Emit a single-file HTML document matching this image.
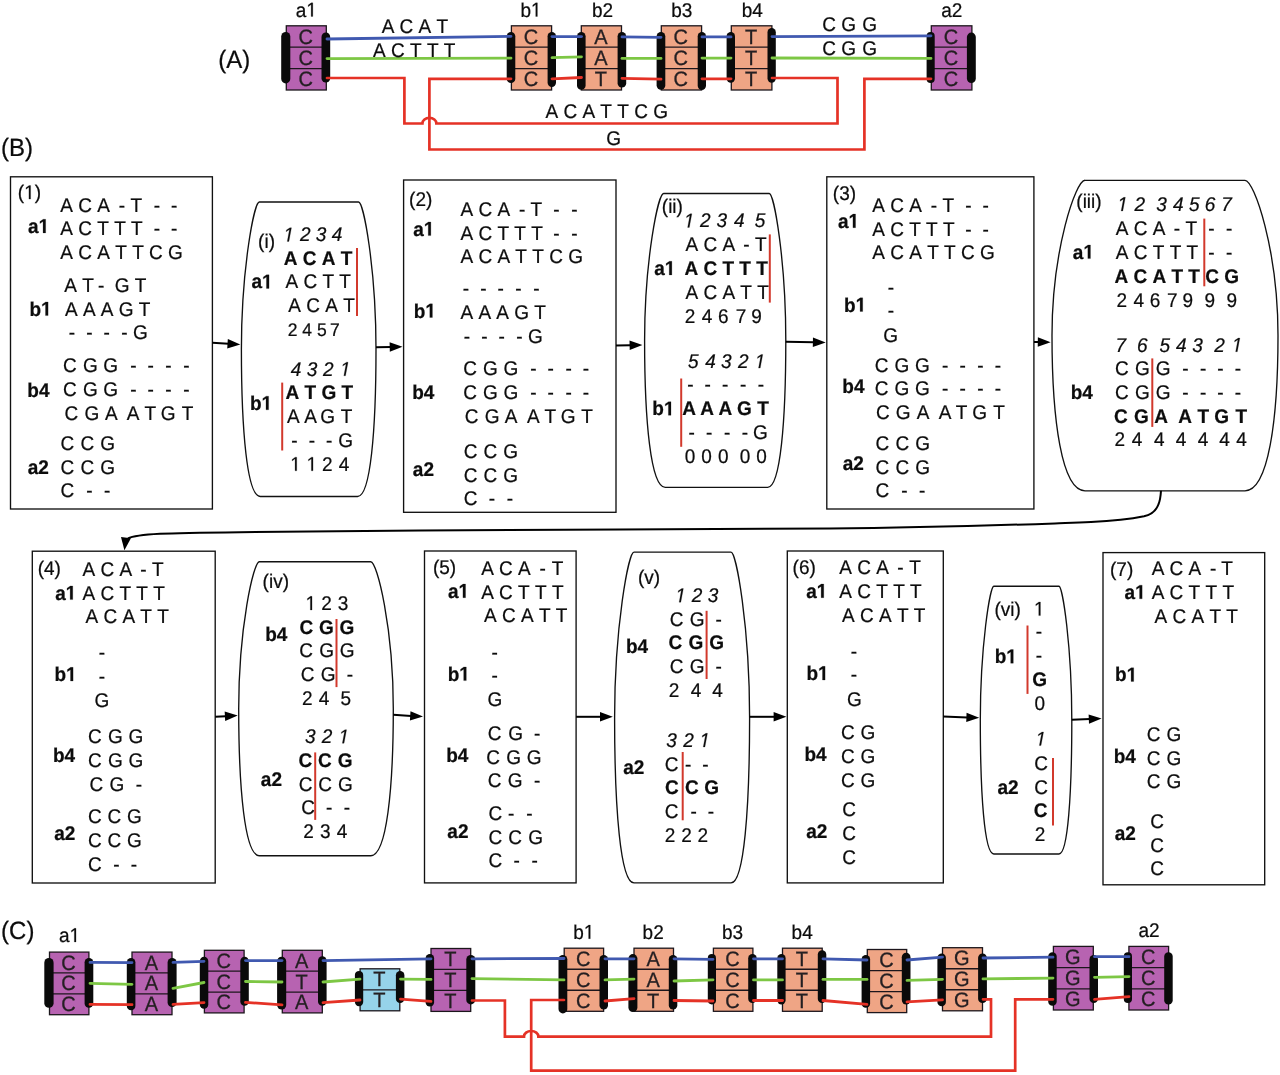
<!DOCTYPE html>
<html><head><meta charset="utf-8"><title>Figure</title>
<style>
html,body{margin:0;padding:0;background:#fff}
svg{display:block;will-change:transform}
text{font-family:"Liberation Sans",sans-serif;font-size:19px;fill:#0c0c0c;white-space:pre;font-kerning:none;font-feature-settings:"kern" 0,"liga" 0;text-rendering:geometricPrecision;stroke:#0c0c0c;stroke-width:0.22px}
.g1{fill:#0c0c0c;stroke:#0c0c0c;stroke-width:0.22px}
.b{font-weight:bold}
.i{font-style:italic}
.u{text-anchor:middle;fill:#241f22;stroke:#241f22;stroke-width:0.3px}
</style></head><body>
<svg width="1280" height="1075" viewBox="0 0 1280 1075" xml:space="preserve">
<rect width="1280" height="1075" fill="#fff"/>
<rect x="286.3" y="25.8" width="40" height="64.2" fill="#b763b1" stroke="#1c161c" stroke-width="1.3"/>
<line x1="286.3" y1="47.2" x2="326.3" y2="47.2" stroke="#1c161c" stroke-width="1.3"/>
<line x1="286.3" y1="68.6" x2="326.3" y2="68.6" stroke="#1c161c" stroke-width="1.3"/>
<text class="u" x="305.7" y="43.54" style="font-size:20px" transform="matrix(1 0 0 1.043 0 -1.8722)">C</text>
<text class="u" x="305.7" y="64.94" style="font-size:20px" transform="matrix(1 0 0 1.043 0 -2.7924)">C</text>
<text class="u" x="305.7" y="86.34" style="font-size:20px" transform="matrix(1 0 0 1.043 0 -3.7126)">C</text>
<rect x="281.2" y="32" width="9.1" height="51.4" rx="4.55" ry="4.55" fill="#0a0a0a"/>
<rect x="321.5" y="32.6" width="8.7" height="50" rx="4.35" ry="4.35" fill="#0a0a0a"/>
<rect x="511.4" y="25.8" width="40.2" height="64.2" fill="#efa585" stroke="#1c161c" stroke-width="1.3"/>
<line x1="511.4" y1="47.2" x2="551.6" y2="47.2" stroke="#1c161c" stroke-width="1.3"/>
<line x1="511.4" y1="68.6" x2="551.6" y2="68.6" stroke="#1c161c" stroke-width="1.3"/>
<text class="u" x="530.9" y="43.54" style="font-size:20px" transform="matrix(1 0 0 1.043 0 -1.8722)">C</text>
<text class="u" x="530.9" y="64.94" style="font-size:20px" transform="matrix(1 0 0 1.043 0 -2.7924)">C</text>
<text class="u" x="530.9" y="86.34" style="font-size:20px" transform="matrix(1 0 0 1.043 0 -3.7126)">C</text>
<rect x="506.7" y="32" width="8.6" height="51" rx="4.3" ry="4.3" fill="#0a0a0a"/>
<rect x="547.6" y="32" width="8.4" height="55" rx="4.2" ry="4.2" fill="#0a0a0a"/>
<rect x="581.3" y="25.8" width="40.2" height="64.2" fill="#efa585" stroke="#1c161c" stroke-width="1.3"/>
<line x1="581.3" y1="47.2" x2="621.5" y2="47.2" stroke="#1c161c" stroke-width="1.3"/>
<line x1="581.3" y1="68.6" x2="621.5" y2="68.6" stroke="#1c161c" stroke-width="1.3"/>
<text class="u" x="600.8" y="43.54" style="font-size:20px" transform="matrix(1 0 0 1.043 0 -1.8722)">A</text>
<text class="u" x="600.8" y="64.94" style="font-size:20px" transform="matrix(1 0 0 1.043 0 -2.7924)">A</text>
<text class="u" x="600.8" y="86.34" style="font-size:20px" transform="matrix(1 0 0 1.043 0 -3.7126)">T</text>
<rect x="577" y="32" width="8.6" height="57.7" rx="4.3" ry="4.3" fill="#0a0a0a"/>
<rect x="617.6" y="32" width="8.6" height="55.5" rx="4.3" ry="4.3" fill="#0a0a0a"/>
<rect x="661.3" y="25.8" width="40.3" height="64.2" fill="#efa585" stroke="#1c161c" stroke-width="1.3"/>
<line x1="661.3" y1="47.2" x2="701.6" y2="47.2" stroke="#1c161c" stroke-width="1.3"/>
<line x1="661.3" y1="68.6" x2="701.6" y2="68.6" stroke="#1c161c" stroke-width="1.3"/>
<text class="u" x="680.85" y="43.54" style="font-size:20px" transform="matrix(1 0 0 1.043 0 -1.8722)">C</text>
<text class="u" x="680.85" y="64.94" style="font-size:20px" transform="matrix(1 0 0 1.043 0 -2.7924)">C</text>
<text class="u" x="680.85" y="86.34" style="font-size:20px" transform="matrix(1 0 0 1.043 0 -3.7126)">C</text>
<rect x="656.6" y="32" width="8.7" height="57.7" rx="4.35" ry="4.35" fill="#0a0a0a"/>
<rect x="697.7" y="32" width="8.3" height="58" rx="4.15" ry="4.15" fill="#0a0a0a"/>
<rect x="731.3" y="25.8" width="40.6" height="64.2" fill="#efa585" stroke="#1c161c" stroke-width="1.3"/>
<line x1="731.3" y1="47.2" x2="771.9" y2="47.2" stroke="#1c161c" stroke-width="1.3"/>
<line x1="731.3" y1="68.6" x2="771.9" y2="68.6" stroke="#1c161c" stroke-width="1.3"/>
<text class="u" x="751" y="43.54" style="font-size:20px" transform="matrix(1 0 0 1.043 0 -1.8722)">T</text>
<text class="u" x="751" y="64.94" style="font-size:20px" transform="matrix(1 0 0 1.043 0 -2.7924)">T</text>
<text class="u" x="751" y="86.34" style="font-size:20px" transform="matrix(1 0 0 1.043 0 -3.7126)">T</text>
<rect x="726.6" y="32" width="8.4" height="50.7" rx="4.2" ry="4.2" fill="#0a0a0a"/>
<rect x="767.5" y="28" width="8.3" height="54.7" rx="4.15" ry="4.15" fill="#0a0a0a"/>
<rect x="931.3" y="25.8" width="40.6" height="64.2" fill="#b763b1" stroke="#1c161c" stroke-width="1.3"/>
<line x1="931.3" y1="47.2" x2="971.9" y2="47.2" stroke="#1c161c" stroke-width="1.3"/>
<line x1="931.3" y1="68.6" x2="971.9" y2="68.6" stroke="#1c161c" stroke-width="1.3"/>
<text class="u" x="951" y="43.54" style="font-size:20px" transform="matrix(1 0 0 1.043 0 -1.8722)">C</text>
<text class="u" x="951" y="64.94" style="font-size:20px" transform="matrix(1 0 0 1.043 0 -2.7924)">C</text>
<text class="u" x="951" y="86.34" style="font-size:20px" transform="matrix(1 0 0 1.043 0 -3.7126)">C</text>
<rect x="926.6" y="32" width="8.1" height="51" rx="4.05" ry="4.05" fill="#0a0a0a"/>
<rect x="966.9" y="32.6" width="8.9" height="50.4" rx="4.45" ry="4.45" fill="#0a0a0a"/>
<line x1="327" y1="39" x2="511" y2="36.3" stroke="#4059b0" stroke-width="2.8" stroke-linecap="round"/>
<line x1="552" y1="36.6" x2="581.5" y2="36.6" stroke="#4059b0" stroke-width="2.8" stroke-linecap="round"/>
<line x1="622" y1="36.9" x2="661" y2="37.3" stroke="#4059b0" stroke-width="2.8" stroke-linecap="round"/>
<line x1="702" y1="36.9" x2="731" y2="36.9" stroke="#4059b0" stroke-width="2.8" stroke-linecap="round"/>
<line x1="772" y1="36.6" x2="931" y2="35.8" stroke="#4059b0" stroke-width="2.8" stroke-linecap="round"/>
<line x1="327" y1="58.6" x2="511" y2="58.2" stroke="#7dc744" stroke-width="2.8" stroke-linecap="round"/>
<line x1="552" y1="57.7" x2="581.5" y2="56.9" stroke="#7dc744" stroke-width="2.8" stroke-linecap="round"/>
<line x1="622" y1="58.4" x2="661" y2="58.4" stroke="#7dc744" stroke-width="2.8" stroke-linecap="round"/>
<line x1="702" y1="58.1" x2="731" y2="58.1" stroke="#7dc744" stroke-width="2.8" stroke-linecap="round"/>
<line x1="772" y1="58" x2="931" y2="58.4" stroke="#7dc744" stroke-width="2.8" stroke-linecap="round"/>
<line x1="552" y1="78.8" x2="581.5" y2="77.5" stroke="#e53226" stroke-width="2.8" stroke-linecap="round"/>
<line x1="622" y1="78.4" x2="661" y2="79.2" stroke="#e53226" stroke-width="2.8" stroke-linecap="round"/>
<line x1="702" y1="78.8" x2="731" y2="78.8" stroke="#e53226" stroke-width="2.8" stroke-linecap="round"/>
<path d="M327 78 L404.4 78 L404.4 123.5 L422.4 123.5 A7 5.6 0 0 1 436.4 123.5 L837.5 123.5 L837.5 78 L772 78" fill="none" stroke="#e53226" stroke-width="2.7" stroke-linejoin="miter" stroke-linecap="round"/>
<path d="M511 78.8 L429.4 78.8 L429.4 149.5 L864.4 149.5 L864.4 78.8 L931 78.8" fill="none" stroke="#e53226" stroke-width="2.7" stroke-linejoin="miter" stroke-linecap="round"/>
<text class="r" y="68.4" style="font-size:24px;" transform="matrix(1 0 0 1.043 0 -2.9412)"><tspan x="218.21">(A)</tspan></text>
<text class="r" y="16.5" transform="matrix(1 0 0 1.043 0 -0.7095)"><tspan x="295.79">a</tspan></text>
<polygon class="g1" points="311.14,16.5 311.14,4.53 308.19,6.73 308.19,5.08 311.28,2.87 312.82,2.87 312.82,16.5"/>
<text class="r" y="16.5" transform="matrix(1 0 0 1.043 0 -0.7095)"><tspan x="520.38">b</tspan></text>
<polygon class="g1" points="535.72,16.5 535.72,4.53 532.77,6.73 532.77,5.08 535.86,2.87 537.4,2.87 537.4,16.5"/>
<text class="r" y="16.5" transform="matrix(1 0 0 1.043 0 -0.7095)"><tspan x="591.98">b2</tspan></text>
<text class="r" y="16.5" transform="matrix(1 0 0 1.043 0 -0.7095)"><tspan x="671.18">b3</tspan></text>
<text class="r" y="16.5" transform="matrix(1 0 0 1.043 0 -0.7095)"><tspan x="741.78">b4</tspan></text>
<text class="r" y="16.5" transform="matrix(1 0 0 1.043 0 -0.7095)"><tspan x="941.19">a2</tspan></text>
<text class="r" y="32.7" transform="matrix(1 0 0 1.043 0 -1.4061)"><tspan x="381.66">A C A T</tspan></text>
<text class="r" y="56.9" transform="matrix(1 0 0 1.043 0 -2.4467)"><tspan x="373.06">A C T T T</tspan></text>
<text class="r" y="31.4" transform="matrix(1 0 0 1.043 0 -1.3502)"><tspan x="822.14">C G</tspan><tspan x="862.24">G</tspan></text>
<text class="r" y="55.3" transform="matrix(1 0 0 1.043 0 -2.3779)"><tspan x="822.14">C G</tspan><tspan x="862.24">G</tspan></text>
<text class="r" y="118.3" transform="matrix(1 0 0 1.043 0 -5.0869)"><tspan x="545.46">A C A T T C G</tspan></text>
<text class="r" y="145.2" transform="matrix(1 0 0 1.043 0 -6.2436)"><tspan x="606.24">G</tspan></text>
<text class="r" y="155.5" style="font-size:24px;" transform="matrix(1 0 0 1.043 0 -6.6865)"><tspan x="1.11">(B)</tspan></text>
<rect x="10.5" y="176.8" width="201.9" height="332.2" fill="none" stroke="#111" stroke-width="1.35"/>
<text class="r" y="199.1" transform="matrix(1 0 0 1.043 0 -8.5613)"><tspan x="17.82">(</tspan><tspan x="34.72">)</tspan></text>
<polygon class="g1" points="28.93,199.1 28.93,187.13 25.98,189.33 25.98,187.68 29.07,185.47 30.61,185.47 30.61,199.1"/>
<text class="r" y="212" transform="matrix(1 0 0 1.043 0 -9.116)"><tspan x="60.36">A C A</tspan><tspan x="118.86">-</tspan><tspan x="130.57">T</tspan><tspan x="153.66">-</tspan><tspan x="171.06">-</tspan></text>
<text class="r" y="235.4" transform="matrix(1 0 0 1.043 0 -10.1222)"><tspan x="60.36">A C T T T</tspan><tspan x="153.66">-</tspan><tspan x="171.06">-</tspan></text>
<text class="r" y="259.1" transform="matrix(1 0 0 1.043 0 -11.1413)"><tspan x="60.36">A C A T T C G</tspan></text>
<text class="b" y="232.9" transform="matrix(1 0 0 1.043 0 -10.0147)"><tspan x="28.04">a</tspan></text>
<polygon class="g1" points="43.04,232.9 43.04,221.58 39.91,223.62 39.91,221.48 43.18,219.27 45.65,219.27 45.65,232.9"/>
<text class="r" y="291.8" transform="matrix(1 0 0 1.043 0 -12.5474)"><tspan x="64.36">A T</tspan><tspan x="97.96">-</tspan><tspan x="114.64">G T</tspan></text>
<text class="r" y="315.8" transform="matrix(1 0 0 1.043 0 -13.5794)"><tspan x="64.96">A A A G T</tspan></text>
<text class="b" y="315.6" transform="matrix(1 0 0 1.043 0 -13.5708)"><tspan x="29.45">b</tspan></text>
<polygon class="g1" points="45.49,315.6 45.49,304.28 42.35,306.32 42.35,304.18 45.63,301.97 48.1,301.97 48.1,315.6"/>
<text class="r" y="339.5" transform="matrix(1 0 0 1.043 0 -14.5985)"><tspan x="68.66">-</tspan><tspan x="86.16">-</tspan><tspan x="103.46">-</tspan><tspan x="121.16">-</tspan><tspan x="133.04">G</tspan></text>
<text class="r" y="372.1" transform="matrix(1 0 0 1.043 0 -16.0003)"><tspan x="63.04">C</tspan><tspan x="82.94">G</tspan><tspan x="103.34">G</tspan><tspan x="130.16">-</tspan><tspan x="147.46">-</tspan><tspan x="165.26">-</tspan><tspan x="183.26">-</tspan></text>
<text class="r" y="395.6" transform="matrix(1 0 0 1.043 0 -17.0108)"><tspan x="63.04">C</tspan><tspan x="82.94">G</tspan><tspan x="103.34">G</tspan><tspan x="130.16">-</tspan><tspan x="147.46">-</tspan><tspan x="165.26">-</tspan><tspan x="183.26">-</tspan></text>
<text class="b" y="397.1" transform="matrix(1 0 0 1.043 0 -17.0753)"><tspan x="27.35">b4</tspan></text>
<text class="r" y="419.6" transform="matrix(1 0 0 1.043 0 -18.0428)"><tspan x="64.54">C</tspan><tspan x="84.54">G</tspan><tspan x="104.96">A</tspan><tspan x="126.86">A</tspan><tspan x="144.47">T</tspan><tspan x="160.64">G</tspan><tspan x="181.67">T</tspan></text>
<text class="r" y="449.9" transform="matrix(1 0 0 1.043 0 -19.3457)"><tspan x="60.44">C</tspan><tspan x="80.44">C</tspan><tspan x="100.34">G</tspan></text>
<text class="r" y="473.8" transform="matrix(1 0 0 1.043 0 -20.3734)"><tspan x="60.44">C</tspan><tspan x="80.44">C</tspan><tspan x="100.34">G</tspan></text>
<text class="b" y="474.4" transform="matrix(1 0 0 1.043 0 -20.3992)"><tspan x="27.64">a2</tspan></text>
<text class="r" y="497.4" transform="matrix(1 0 0 1.043 0 -21.3882)"><tspan x="60.44">C</tspan><tspan x="86.16">-</tspan><tspan x="103.96">-</tspan></text>
<path d="M259.3 202 L358.6 202 C363.47 202 376 268.26 376 349.25 C376 430.24 370.48 496.5 357.6 496.5 L260.3 496.5 C247.07 496.5 241.4 430.24 241.4 349.25 C241.4 268.26 254.29 202 259.3 202 Z" fill="none" stroke="#111" stroke-width="1.35"/>
<text class="r" y="248.1" transform="matrix(1 0 0 1.043 0 -10.6683)"><tspan x="258.12">(i)</tspan></text>
<text class="i" y="241.4" transform="matrix(1 0 0 1.043 0 -10.3802)"><tspan x="300.01">2 3 4</tspan></text>
<polygon class="g1" points="287.24,241.4 289.45,229.57 286.1,231.72 286.42,229.98 289.92,227.77 291.46,227.77 288.92,241.4"/>
<text class="b" y="264.9" transform="matrix(1 0 0 1.043 0 -11.3907)"><tspan x="283.83">A C A T</tspan></text>
<text class="r" y="288.4" transform="matrix(1 0 0 1.043 0 -12.4012)"><tspan x="285.46">A C T T</tspan></text>
<text class="b" y="288.4" transform="matrix(1 0 0 1.043 0 -12.4012)"><tspan x="251.44">a</tspan></text>
<polygon class="g1" points="266.44,288.4 266.44,277.08 263.31,279.12 263.31,276.98 266.58,274.77 269.05,274.77 269.05,288.4"/>
<text class="r" y="312.1" transform="matrix(1 0 0 1.043 0 -13.4203)"><tspan x="288.36">A C A T</tspan></text>
<text class="r" y="336.4" style="font-size:17.5px;" transform="matrix(1 0 0 1.043 0 -14.4652)"><tspan x="287.72">2</tspan><tspan x="302.2">4</tspan><tspan x="317">5</tspan><tspan x="330.1">7</tspan></text>
<line x1="357" y1="248" x2="357" y2="316" stroke="#d2392c" stroke-width="2"/>
<text class="i" y="375.8" transform="matrix(1 0 0 1.043 0 -16.1594)"><tspan x="290.78">4</tspan><tspan x="306.75">3</tspan><tspan x="323.01">2</tspan></text>
<polygon class="g1" points="343.84,375.8 346.05,363.97 342.7,366.12 343.02,364.38 346.52,362.17 348.06,362.17 345.52,375.8"/>
<text class="b" y="399.3" transform="matrix(1 0 0 1.043 0 -17.1699)"><tspan x="285.53">A T G T</tspan></text>
<text class="b" y="409.8" transform="matrix(1 0 0 1.043 0 -17.6214)"><tspan x="249.95">b</tspan></text>
<polygon class="g1" points="265.99,409.8 265.99,398.48 262.85,400.52 262.85,398.38 266.13,396.17 268.6,396.17 268.6,409.8"/>
<text class="r" y="423.1" transform="matrix(1 0 0 1.043 0 -18.1933)"><tspan x="286.96">A</tspan><tspan x="304.26">A</tspan><tspan x="320.34">G</tspan><tspan x="340.67">T</tspan></text>
<text class="r" y="447" transform="matrix(1 0 0 1.043 0 -19.221)"><tspan x="291.16">-</tspan><tspan x="308.66">-</tspan><tspan x="326.06">-</tspan><tspan x="338.14">G</tspan></text>
<text class="r" y="470.8" transform="matrix(1 0 0 1.043 0 -20.2444)"><tspan x="321.94">2</tspan><tspan x="338.76">4</tspan></text>
<polygon class="g1" points="295.05,470.8 295.05,458.83 292.1,461.03 292.1,459.38 295.19,457.17 296.73,457.17 296.73,470.8"/>
<polygon class="g1" points="311.35,470.8 311.35,458.83 308.4,461.03 308.4,459.38 311.49,457.17 313.03,457.17 313.03,470.8"/>
<line x1="282.2" y1="382.6" x2="282.2" y2="450.5" stroke="#d2392c" stroke-width="2"/>
<rect x="403.6" y="180" width="212.4" height="332.3" fill="none" stroke="#111" stroke-width="1.35"/>
<text class="r" y="205.5" transform="matrix(1 0 0 1.043 0 -8.8365)"><tspan x="409.12">(2)</tspan></text>
<text class="r" y="216" transform="matrix(1 0 0 1.043 0 -9.288)"><tspan x="460.46">A C A</tspan><tspan x="518.96">-</tspan><tspan x="530.57">T</tspan><tspan x="553.36">-</tspan><tspan x="571.16">-</tspan></text>
<text class="r" y="239.8" transform="matrix(1 0 0 1.043 0 -10.3114)"><tspan x="460.46">A C T T T</tspan><tspan x="553.36">-</tspan><tspan x="571.16">-</tspan></text>
<text class="b" y="235.6" transform="matrix(1 0 0 1.043 0 -10.1308)"><tspan x="413.24">a</tspan></text>
<polygon class="g1" points="428.24,235.6 428.24,224.28 425.11,226.32 425.11,224.18 428.38,221.97 430.85,221.97 430.85,235.6"/>
<text class="r" y="263.1" transform="matrix(1 0 0 1.043 0 -11.3133)"><tspan x="460.46">A C A T T C G</tspan></text>
<text class="r" y="295.1" transform="matrix(1 0 0 1.043 0 -12.6893)"><tspan x="462.66">-</tspan><tspan x="480.16">-</tspan><tspan x="497.46">-</tspan><tspan x="515.26">-</tspan><tspan x="533.26">-</tspan></text>
<text class="r" y="319.3" transform="matrix(1 0 0 1.043 0 -13.7299)"><tspan x="460.46">A A A G T</tspan></text>
<text class="b" y="317.5" transform="matrix(1 0 0 1.043 0 -13.6525)"><tspan x="413.75">b</tspan></text>
<polygon class="g1" points="429.79,317.5 429.79,306.18 426.65,308.22 426.65,306.08 429.93,303.87 432.4,303.87 432.4,317.5"/>
<text class="r" y="343.1" transform="matrix(1 0 0 1.043 0 -14.7533)"><tspan x="463.66">-</tspan><tspan x="481.16">-</tspan><tspan x="498.46">-</tspan><tspan x="516.26">-</tspan><tspan x="528.04">G</tspan></text>
<text class="r" y="375.3" transform="matrix(1 0 0 1.043 0 -16.1379)"><tspan x="463.14">C</tspan><tspan x="483.04">G</tspan><tspan x="503.54">G</tspan><tspan x="530.16">-</tspan><tspan x="547.56">-</tspan><tspan x="565.56">-</tspan><tspan x="582.76">-</tspan></text>
<text class="r" y="398.9" transform="matrix(1 0 0 1.043 0 -17.1527)"><tspan x="463.14">C</tspan><tspan x="483.04">G</tspan><tspan x="503.54">G</tspan><tspan x="530.16">-</tspan><tspan x="547.56">-</tspan><tspan x="565.56">-</tspan><tspan x="582.76">-</tspan></text>
<text class="b" y="398.9" transform="matrix(1 0 0 1.043 0 -17.1527)"><tspan x="412.15">b4</tspan></text>
<text class="r" y="422.8" transform="matrix(1 0 0 1.043 0 -18.1804)"><tspan x="464.64">C</tspan><tspan x="484.64">G</tspan><tspan x="504.86">A</tspan><tspan x="526.96">A</tspan><tspan x="544.57">T</tspan><tspan x="560.84">G</tspan><tspan x="581.17">T</tspan></text>
<text class="r" y="458.2" transform="matrix(1 0 0 1.043 0 -19.7026)"><tspan x="463.64">C</tspan><tspan x="483.44">C</tspan><tspan x="503.14">G</tspan></text>
<text class="r" y="481.8" transform="matrix(1 0 0 1.043 0 -20.7174)"><tspan x="463.64">C</tspan><tspan x="483.44">C</tspan><tspan x="503.14">G</tspan></text>
<text class="b" y="475.6" transform="matrix(1 0 0 1.043 0 -20.4508)"><tspan x="412.84">a2</tspan></text>
<text class="r" y="505.3" transform="matrix(1 0 0 1.043 0 -21.7279)"><tspan x="463.64">C</tspan><tspan x="488.66">-</tspan><tspan x="506.66">-</tspan></text>
<path d="M663.6 193.5 L769.3 193.5 C773.92 193.5 785.8 259.61 785.8 340.4 C785.8 421.19 780.37 487.3 767.7 487.3 L665.2 487.3 C650.78 487.3 644.6 421.19 644.6 340.4 C644.6 259.61 658.28 193.5 663.6 193.5 Z" fill="none" stroke="#111" stroke-width="1.35"/>
<text class="r" y="212.8" transform="matrix(1 0 0 1.043 0 -9.1504)"><tspan x="661.82">(ii)</tspan></text>
<text class="i" y="227.4" transform="matrix(1 0 0 1.043 0 -9.7782)"><tspan x="700.01">2</tspan><tspan x="716.55">3</tspan><tspan x="733.88">4</tspan><tspan x="754.77">5</tspan></text>
<polygon class="g1" points="687.64,227.4 689.85,215.57 686.5,217.72 686.82,215.98 690.32,213.77 691.86,213.77 689.32,227.4"/>
<text class="r" y="251.4" transform="matrix(1 0 0 1.043 0 -10.8102)"><tspan x="685.46">A C A</tspan><tspan x="743.36">-</tspan><tspan x="755.07">T</tspan></text>
<text class="b" y="274.9" transform="matrix(1 0 0 1.043 0 -11.8207)"><tspan x="684.43">A C T T T</tspan></text>
<text class="b" y="274.9" transform="matrix(1 0 0 1.043 0 -11.8207)"><tspan x="654.24">a</tspan></text>
<polygon class="g1" points="669.24,274.9 669.24,263.58 666.11,265.62 666.11,263.48 669.38,261.27 671.85,261.27 671.85,274.9"/>
<text class="r" y="298.9" transform="matrix(1 0 0 1.043 0 -12.8527)"><tspan x="685.46">A C A T T</tspan></text>
<text class="r" y="322.6" transform="matrix(1 0 0 1.043 0 -13.8718)"><tspan x="684.84">2</tspan><tspan x="701.66">4</tspan><tspan x="718.04">6</tspan><tspan x="735.63">7</tspan><tspan x="751.31">9</tspan></text>
<line x1="769.8" y1="234.4" x2="769.8" y2="302.6" stroke="#d2392c" stroke-width="2"/>
<text class="i" y="368.1" transform="matrix(1 0 0 1.043 0 -15.8283)"><tspan x="687.97">5</tspan><tspan x="705.18">4</tspan><tspan x="720.95">3</tspan><tspan x="738.01">2</tspan></text>
<polygon class="g1" points="758.54,368.1 760.75,356.27 757.4,358.42 757.72,356.68 761.22,354.47 762.76,354.47 760.22,368.1"/>
<text class="r" y="390.6" transform="matrix(1 0 0 1.043 0 -16.7958)"><tspan x="687.16">-</tspan><tspan x="704.56">-</tspan><tspan x="721.96">-</tspan><tspan x="739.96">-</tspan><tspan x="757.76">-</tspan></text>
<text class="b" y="415.4" transform="matrix(1 0 0 1.043 0 -17.8622)"><tspan x="682.13">A</tspan><tspan x="700.33">A</tspan><tspan x="718.53">A</tspan><tspan x="737.12">G</tspan><tspan x="757.19">T</tspan></text>
<text class="b" y="415.3" transform="matrix(1 0 0 1.043 0 -17.8579)"><tspan x="652.35">b</tspan></text>
<polygon class="g1" points="668.39,415.3 668.39,403.98 665.25,406.02 665.25,403.88 668.53,401.67 671,401.67 671,415.3"/>
<text class="r" y="438.8" transform="matrix(1 0 0 1.043 0 -18.8684)"><tspan x="688.56">-</tspan><tspan x="705.96">-</tspan><tspan x="723.96">-</tspan><tspan x="741.76">-</tspan><tspan x="752.94">G</tspan></text>
<text class="r" y="462.9" transform="matrix(1 0 0 1.043 0 -19.9047)"><tspan x="684.66">0</tspan><tspan x="701.36">0</tspan><tspan x="718.06">0</tspan><tspan x="739.76">0</tspan><tspan x="756.26">0</tspan></text>
<line x1="681.2" y1="378.5" x2="681.2" y2="446.8" stroke="#d2392c" stroke-width="2"/>
<rect x="826.8" y="176.8" width="207.1" height="332.2" fill="none" stroke="#111" stroke-width="1.35"/>
<text class="r" y="200.4" transform="matrix(1 0 0 1.043 0 -8.6172)"><tspan x="832.82">(3)</tspan></text>
<text class="r" y="212.2" transform="matrix(1 0 0 1.043 0 -9.1246)"><tspan x="872.26">A C A</tspan><tspan x="930.76">-</tspan><tspan x="942.47">T</tspan><tspan x="965.16">-</tspan><tspan x="982.56">-</tspan></text>
<text class="r" y="235.6" transform="matrix(1 0 0 1.043 0 -10.1308)"><tspan x="872.26">A C T T T</tspan><tspan x="965.16">-</tspan><tspan x="982.56">-</tspan></text>
<text class="b" y="227.7" transform="matrix(1 0 0 1.043 0 -9.7911)"><tspan x="837.94">a</tspan></text>
<polygon class="g1" points="852.94,227.7 852.94,216.38 849.81,218.42 849.81,216.28 853.08,214.07 855.55,214.07 855.55,227.7"/>
<text class="r" y="259.3" transform="matrix(1 0 0 1.043 0 -11.1499)"><tspan x="872.26">A C A T T C G</tspan></text>
<text class="r" y="293.6" transform="matrix(1 0 0 1.043 0 -12.6248)"><tspan x="887.86">-</tspan></text>
<text class="r" y="317.1" transform="matrix(1 0 0 1.043 0 -13.6353)"><tspan x="887.86">-</tspan></text>
<text class="b" y="311.5" transform="matrix(1 0 0 1.043 0 -13.3945)"><tspan x="844.05">b</tspan></text>
<polygon class="g1" points="860.09,311.5 860.09,300.18 856.95,302.22 856.95,300.08 860.23,297.87 862.7,297.87 862.7,311.5"/>
<text class="r" y="341.6" transform="matrix(1 0 0 1.043 0 -14.6888)"><tspan x="883.24">G</tspan></text>
<text class="r" y="371.5" transform="matrix(1 0 0 1.043 0 -15.9745)"><tspan x="874.84">C</tspan><tspan x="894.44">G</tspan><tspan x="914.94">G</tspan><tspan x="942.06">-</tspan><tspan x="959.46">-</tspan><tspan x="977.26">-</tspan><tspan x="994.66">-</tspan></text>
<text class="r" y="395.4" transform="matrix(1 0 0 1.043 0 -17.0022)"><tspan x="874.84">C</tspan><tspan x="894.44">G</tspan><tspan x="914.94">G</tspan><tspan x="942.06">-</tspan><tspan x="959.46">-</tspan><tspan x="977.26">-</tspan><tspan x="994.66">-</tspan></text>
<text class="b" y="393.2" transform="matrix(1 0 0 1.043 0 -16.9076)"><tspan x="842.35">b4</tspan></text>
<text class="r" y="419.4" transform="matrix(1 0 0 1.043 0 -18.0342)"><tspan x="876.04">C</tspan><tspan x="895.84">G</tspan><tspan x="916.66">A</tspan><tspan x="938.76">A</tspan><tspan x="955.77">T</tspan><tspan x="972.24">G</tspan><tspan x="993.17">T</tspan></text>
<text class="r" y="450.1" transform="matrix(1 0 0 1.043 0 -19.3543)"><tspan x="875.44">C</tspan><tspan x="895.44">C</tspan><tspan x="915.34">G</tspan></text>
<text class="r" y="473.6" transform="matrix(1 0 0 1.043 0 -20.3648)"><tspan x="875.44">C</tspan><tspan x="895.44">C</tspan><tspan x="915.34">G</tspan></text>
<text class="b" y="469.9" transform="matrix(1 0 0 1.043 0 -20.2057)"><tspan x="842.64">a2</tspan></text>
<text class="r" y="497.1" transform="matrix(1 0 0 1.043 0 -21.3753)"><tspan x="875.44">C</tspan><tspan x="901.16">-</tspan><tspan x="918.96">-</tspan></text>
<path d="M1085 180.3 L1245 180.3 C1254.24 180.3 1278 250.16 1278 335.55 C1278 420.94 1268.1 490.8 1245 490.8 L1085 490.8 C1061.9 490.8 1052 420.94 1052 335.55 C1052 250.16 1075.76 180.3 1085 180.3 Z" fill="none" stroke="#111" stroke-width="1.35"/>
<text class="r" y="207.9" transform="matrix(1 0 0 1.043 0 -8.9397)"><tspan x="1076.32">(iii)</tspan></text>
<text class="i" y="211" transform="matrix(1 0 0 1.043 0 -9.073)"><tspan x="1134.41">2</tspan><tspan x="1156.35">3</tspan><tspan x="1173.08">4</tspan><tspan x="1189.07">5</tspan><tspan x="1204.83">6</tspan><tspan x="1221.33">7</tspan></text>
<polygon class="g1" points="1121.14,211 1123.35,199.17 1120,201.32 1120.32,199.58 1123.82,197.37 1125.36,197.37 1122.82,211"/>
<text class="r" y="235.1" transform="matrix(1 0 0 1.043 0 -10.1093)"><tspan x="1115.86">A C A</tspan><tspan x="1173.76">-</tspan><tspan x="1185.47">T</tspan><tspan x="1208.16">-</tspan><tspan x="1225.96">-</tspan></text>
<text class="r" y="258.6" transform="matrix(1 0 0 1.043 0 -11.1198)"><tspan x="1115.86">A C T T T</tspan><tspan x="1208.16">-</tspan><tspan x="1225.96">-</tspan></text>
<text class="b" y="258.6" transform="matrix(1 0 0 1.043 0 -11.1198)"><tspan x="1072.84">a</tspan></text>
<polygon class="g1" points="1087.84,258.6 1087.84,247.28 1084.71,249.32 1084.71,247.18 1087.98,244.97 1090.45,244.97 1090.45,258.6"/>
<text class="b" y="282.6" transform="matrix(1 0 0 1.043 0 -12.1518)"><tspan x="1114.43">A C A T T C G</tspan></text>
<text class="r" y="306.7" transform="matrix(1 0 0 1.043 0 -13.1881)"><tspan x="1116.54">2</tspan><tspan x="1133.46">4</tspan><tspan x="1149.74">6</tspan><tspan x="1167.03">7</tspan><tspan x="1182.51">9</tspan><tspan x="1204.61">9</tspan><tspan x="1226.51">9</tspan></text>
<line x1="1204.3" y1="218.6" x2="1204.3" y2="286.3" stroke="#d2392c" stroke-width="2"/>
<text class="i" y="351.7" transform="matrix(1 0 0 1.043 0 -15.1231)"><tspan x="1115.53">7</tspan><tspan x="1136.93">6</tspan><tspan x="1159.47">5</tspan><tspan x="1176.08">4</tspan><tspan x="1192.15">3</tspan><tspan x="1214.21">2</tspan></text>
<polygon class="g1" points="1235.64,351.7 1237.85,339.87 1234.5,342.02 1234.82,340.28 1238.32,338.07 1239.86,338.07 1237.32,351.7"/>
<text class="r" y="375.3" transform="matrix(1 0 0 1.043 0 -16.1379)"><tspan x="1114.94">C</tspan><tspan x="1135.04">G</tspan><tspan x="1155.84">G</tspan><tspan x="1182.16">-</tspan><tspan x="1199.96">-</tspan><tspan x="1217.36">-</tspan><tspan x="1234.76">-</tspan></text>
<text class="r" y="398.9" transform="matrix(1 0 0 1.043 0 -17.1527)"><tspan x="1114.94">C</tspan><tspan x="1135.04">G</tspan><tspan x="1155.84">G</tspan><tspan x="1182.16">-</tspan><tspan x="1199.96">-</tspan><tspan x="1217.36">-</tspan><tspan x="1234.76">-</tspan></text>
<text class="b" y="398.9" transform="matrix(1 0 0 1.043 0 -17.1527)"><tspan x="1070.75">b4</tspan></text>
<text class="b" y="422.8" transform="matrix(1 0 0 1.043 0 -18.1804)"><tspan x="1114.12">C</tspan><tspan x="1133.92">G</tspan><tspan x="1154.33">A</tspan><tspan x="1178.23">A</tspan><tspan x="1197.49">T</tspan><tspan x="1214.32">G</tspan><tspan x="1235.39">T</tspan></text>
<text class="r" y="446.3" transform="matrix(1 0 0 1.043 0 -19.1909)"><tspan x="1114.54">2</tspan><tspan x="1131.86">4</tspan><tspan x="1153.96">4</tspan><tspan x="1175.86">4</tspan><tspan x="1197.76">4</tspan><tspan x="1219.36">4</tspan><tspan x="1236.16">4</tspan></text>
<line x1="1152.3" y1="358.4" x2="1152.3" y2="426.9" stroke="#d2392c" stroke-width="2"/>
<line x1="212.4" y1="342.7" x2="228.53" y2="343.8" stroke="#000" stroke-width="2"/>
<path d="M240.3 344.6 L227.21 348.42 L227.85 339.04 Z" fill="#000"/>
<line x1="376" y1="347.3" x2="390.7" y2="346.97" stroke="#000" stroke-width="2"/>
<path d="M402.5 346.7 L389.81 351.69 L389.6 342.29 Z" fill="#000"/>
<line x1="616" y1="345.5" x2="630.6" y2="345.17" stroke="#000" stroke-width="2"/>
<path d="M642.4 344.9 L629.71 349.89 L629.5 340.49 Z" fill="#000"/>
<line x1="785.8" y1="341.8" x2="813.9" y2="342.29" stroke="#000" stroke-width="2"/>
<path d="M825.7 342.5 L812.82 346.97 L812.98 337.58 Z" fill="#000"/>
<line x1="1034" y1="342" x2="1038.8" y2="342.06" stroke="#000" stroke-width="2"/>
<path d="M1050.6 342.2 L1037.74 346.75 L1037.86 337.35 Z" fill="#000"/>
<path d="M1161 490.8 C1160.6 497 1160 501 1158.4 504.5 C1156 511 1152 514.5 1144 516.3 C1128 519.5 1105 521.3 1091 522 C1075 522.8 1065 523 1055 523.4 C980 526 900 528 830 528.6 L620 529.4 L420 530.6 L240 532.2 C200 532.6 175 533 160 533.8 C143 534.7 133 535.8 128 538.5" fill="none" stroke="#000" stroke-width="2"/>
<path d="M124.4 550.3 L121 537 L130.9 538.2 Z" fill="#000"/>
<rect x="32.3" y="551.2" width="182.9" height="331.8" fill="none" stroke="#111" stroke-width="1.35"/>
<text class="r" y="575.1" transform="matrix(1 0 0 1.043 0 -24.7293)"><tspan x="37.72">(4)</tspan></text>
<text class="r" y="575.6" transform="matrix(1 0 0 1.043 0 -24.7508)"><tspan x="82.46">A C A</tspan><tspan x="140.36">-</tspan><tspan x="151.97">T</tspan></text>
<text class="r" y="599.6" transform="matrix(1 0 0 1.043 0 -25.7828)"><tspan x="82.46">A C T T T</tspan></text>
<text class="b" y="599.6" transform="matrix(1 0 0 1.043 0 -25.7828)"><tspan x="55.14">a</tspan></text>
<polygon class="g1" points="70.14,599.6 70.14,588.28 67.01,590.32 67.01,588.18 70.28,585.97 72.75,585.97 72.75,599.6"/>
<text class="r" y="623.1" transform="matrix(1 0 0 1.043 0 -26.7933)"><tspan x="85.46">A C A T T</tspan></text>
<text class="r" y="658.9" transform="matrix(1 0 0 1.043 0 -28.3327)"><tspan x="98.76">-</tspan></text>
<text class="r" y="682.9" transform="matrix(1 0 0 1.043 0 -29.3647)"><tspan x="98.76">-</tspan></text>
<text class="b" y="681" transform="matrix(1 0 0 1.043 0 -29.283)"><tspan x="54.45">b</tspan></text>
<polygon class="g1" points="70.49,681 70.49,669.68 67.35,671.72 67.35,669.58 70.63,667.37 73.1,667.37 73.1,681"/>
<text class="r" y="706.7" transform="matrix(1 0 0 1.043 0 -30.3881)"><tspan x="94.54">G</tspan></text>
<text class="r" y="743" transform="matrix(1 0 0 1.043 0 -31.949)"><tspan x="88.04">C</tspan><tspan x="108.04">G</tspan><tspan x="128.54">G</tspan></text>
<text class="r" y="766.5" transform="matrix(1 0 0 1.043 0 -32.9595)"><tspan x="88.04">C</tspan><tspan x="108.04">G</tspan><tspan x="128.54">G</tspan></text>
<text class="b" y="762.4" transform="matrix(1 0 0 1.043 0 -32.7832)"><tspan x="52.95">b4</tspan></text>
<text class="r" y="790.6" transform="matrix(1 0 0 1.043 0 -33.9958)"><tspan x="89.44">C</tspan><tspan x="109.54">G</tspan><tspan x="135.86">-</tspan></text>
<text class="r" y="823.2" transform="matrix(1 0 0 1.043 0 -35.3976)"><tspan x="88.04">C</tspan><tspan x="107.44">C</tspan><tspan x="126.94">G</tspan></text>
<text class="r" y="847.3" transform="matrix(1 0 0 1.043 0 -36.4339)"><tspan x="88.04">C</tspan><tspan x="107.44">C</tspan><tspan x="126.94">G</tspan></text>
<text class="b" y="839.6" transform="matrix(1 0 0 1.043 0 -36.1028)"><tspan x="54.24">a2</tspan></text>
<text class="r" y="871.3" transform="matrix(1 0 0 1.043 0 -37.4659)"><tspan x="88.04">C</tspan><tspan x="113.16">-</tspan><tspan x="130.76">-</tspan></text>
<path d="M259.3 561.7 L370.8 561.7 C377.1 561.7 393.3 627.85 393.3 708.7 C393.3 789.55 386.55 855.7 370.8 855.7 L259.3 855.7 C244.88 855.7 238.7 789.55 238.7 708.7 C238.7 627.85 253.53 561.7 259.3 561.7 Z" fill="none" stroke="#111" stroke-width="1.35"/>
<text class="r" y="587.9" transform="matrix(1 0 0 1.043 0 -25.2797)"><tspan x="262.62">(iv)</tspan></text>
<text class="r" y="610" transform="matrix(1 0 0 1.043 0 -26.23)"><tspan x="321.14">2</tspan><tspan x="337.78">3</tspan></text>
<polygon class="g1" points="310.35,610 310.35,598.03 307.4,600.23 307.4,598.58 310.49,596.37 312.03,596.37 312.03,610"/>
<text class="b" y="633.5" transform="matrix(1 0 0 1.043 0 -27.2405)"><tspan x="299.52">C</tspan><tspan x="318.92">G</tspan><tspan x="339.42">G</tspan></text>
<text class="b" y="641.1" transform="matrix(1 0 0 1.043 0 -27.5673)"><tspan x="265.25">b4</tspan></text>
<text class="r" y="657.5" transform="matrix(1 0 0 1.043 0 -28.2725)"><tspan x="299.34">C</tspan><tspan x="319.14">G</tspan><tspan x="339.64">G</tspan></text>
<text class="r" y="681.4" transform="matrix(1 0 0 1.043 0 -29.3002)"><tspan x="300.74">C</tspan><tspan x="320.74">G</tspan><tspan x="346.86">-</tspan></text>
<text class="r" y="704.5" transform="matrix(1 0 0 1.043 0 -30.2935)"><tspan x="301.94">2</tspan><tspan x="318.86">4</tspan><tspan x="340.44">5</tspan></text>
<line x1="336.5" y1="619" x2="336.5" y2="687.1" stroke="#d2392c" stroke-width="2"/>
<text class="i" y="743.3" transform="matrix(1 0 0 1.043 0 -31.9619)"><tspan x="304.95">3</tspan><tspan x="321.81">2</tspan></text>
<polygon class="g1" points="342.34,743.3 344.55,731.47 341.2,733.62 341.52,731.88 345.02,729.67 346.56,729.67 344.02,743.3"/>
<text class="b" y="766.7" transform="matrix(1 0 0 1.043 0 -32.9681)"><tspan x="298.42">C</tspan><tspan x="317.92">C</tspan><tspan x="337.72">G</tspan></text>
<text class="r" y="790.9" transform="matrix(1 0 0 1.043 0 -34.0087)"><tspan x="298.64">C</tspan><tspan x="318.14">C</tspan><tspan x="338.04">G</tspan></text>
<text class="b" y="785.7" transform="matrix(1 0 0 1.043 0 -33.7851)"><tspan x="260.84">a2</tspan></text>
<text class="r" y="814.4" transform="matrix(1 0 0 1.043 0 -35.0192)"><tspan x="301.34">C</tspan><tspan x="326.06">-</tspan><tspan x="343.86">-</tspan></text>
<text class="r" y="837.9" transform="matrix(1 0 0 1.043 0 -36.0297)"><tspan x="303.34">2</tspan><tspan x="319.98">3</tspan><tspan x="336.66">4</tspan></text>
<line x1="315.2" y1="752.4" x2="315.2" y2="819.9" stroke="#d2392c" stroke-width="2"/>
<rect x="424.5" y="551" width="151.6" height="331.9" fill="none" stroke="#111" stroke-width="1.35"/>
<text class="r" y="573.6" transform="matrix(1 0 0 1.043 0 -24.6648)"><tspan x="432.92">(5)</tspan></text>
<text class="r" y="574.6" transform="matrix(1 0 0 1.043 0 -24.7078)"><tspan x="481.16">A C A</tspan><tspan x="539.46">-</tspan><tspan x="551.77">T</tspan></text>
<text class="r" y="598.5" transform="matrix(1 0 0 1.043 0 -25.7355)"><tspan x="481.16">A C T T T</tspan></text>
<text class="b" y="597.7" transform="matrix(1 0 0 1.043 0 -25.7011)"><tspan x="447.94">a</tspan></text>
<polygon class="g1" points="462.94,597.7 462.94,586.38 459.81,588.42 459.81,586.28 463.08,584.07 465.55,584.07 465.55,597.7"/>
<text class="r" y="622.1" transform="matrix(1 0 0 1.043 0 -26.7503)"><tspan x="484.06">A C A T T</tspan></text>
<text class="r" y="658.6" transform="matrix(1 0 0 1.043 0 -28.3198)"><tspan x="491.46">-</tspan></text>
<text class="r" y="682.1" transform="matrix(1 0 0 1.043 0 -29.3303)"><tspan x="491.46">-</tspan></text>
<text class="b" y="680.6" transform="matrix(1 0 0 1.043 0 -29.2658)"><tspan x="447.65">b</tspan></text>
<polygon class="g1" points="463.69,680.6 463.69,669.28 460.55,671.32 460.55,669.18 463.83,666.97 466.3,666.97 466.3,680.6"/>
<text class="r" y="706" transform="matrix(1 0 0 1.043 0 -30.358)"><tspan x="487.44">G</tspan></text>
<text class="r" y="740.1" transform="matrix(1 0 0 1.043 0 -31.8243)"><tspan x="487.84">C</tspan><tspan x="508.24">G</tspan><tspan x="533.96">-</tspan></text>
<text class="r" y="763.8" transform="matrix(1 0 0 1.043 0 -32.8434)"><tspan x="486.34">C</tspan><tspan x="506.24">G</tspan><tspan x="526.64">G</tspan></text>
<text class="b" y="762.2" transform="matrix(1 0 0 1.043 0 -32.7746)"><tspan x="446.15">b4</tspan></text>
<text class="r" y="787.4" transform="matrix(1 0 0 1.043 0 -33.8582)"><tspan x="487.84">C</tspan><tspan x="507.84">G</tspan><tspan x="533.96">-</tspan></text>
<text class="r" y="819.9" transform="matrix(1 0 0 1.043 0 -35.2557)"><tspan x="488.44">C</tspan><tspan x="507.96">-</tspan><tspan x="526.16">-</tspan></text>
<text class="r" y="843.6" transform="matrix(1 0 0 1.043 0 -36.2748)"><tspan x="488.44">C</tspan><tspan x="508.24">C</tspan><tspan x="528.14">G</tspan></text>
<text class="b" y="838.3" transform="matrix(1 0 0 1.043 0 -36.0469)"><tspan x="447.34">a2</tspan></text>
<text class="r" y="867" transform="matrix(1 0 0 1.043 0 -37.281)"><tspan x="488.44">C</tspan><tspan x="513.46">-</tspan><tspan x="531.56">-</tspan></text>
<path d="M634 552.1 L731 552.1 C736.21 552.1 749.6 626.53 749.6 717.5 C749.6 808.47 744.02 882.9 731 882.9 L634 882.9 C620.42 882.9 614.6 808.47 614.6 717.5 C614.6 626.53 628.57 552.1 634 552.1 Z" fill="none" stroke="#111" stroke-width="1.35"/>
<text class="r" y="584.2" transform="matrix(1 0 0 1.043 0 -25.1206)"><tspan x="637.92">(v)</tspan></text>
<text class="i" y="602.2" transform="matrix(1 0 0 1.043 0 -25.8946)"><tspan x="691.81">2 3</tspan></text>
<polygon class="g1" points="679.14,602.2 681.35,590.37 678,592.52 678.32,590.78 681.82,588.57 683.36,588.57 680.82,602.2"/>
<text class="r" y="625.7" transform="matrix(1 0 0 1.043 0 -26.9051)"><tspan x="669.84">C</tspan><tspan x="689.74">G</tspan><tspan x="715.56">-</tspan></text>
<text class="b" y="649.3" transform="matrix(1 0 0 1.043 0 -27.9199)"><tspan x="668.62">C</tspan><tspan x="688.42">G</tspan><tspan x="709.32">G</tspan></text>
<text class="b" y="653.4" transform="matrix(1 0 0 1.043 0 -28.0962)"><tspan x="625.95">b4</tspan></text>
<text class="r" y="673.2" transform="matrix(1 0 0 1.043 0 -28.9476)"><tspan x="669.84">C</tspan><tspan x="689.74">G</tspan><tspan x="715.56">-</tspan></text>
<text class="r" y="696.9" transform="matrix(1 0 0 1.043 0 -29.9667)"><tspan x="668.84">2</tspan><tspan x="690.86">4</tspan><tspan x="712.36">4</tspan></text>
<line x1="706.6" y1="610.8" x2="706.6" y2="679" stroke="#d2392c" stroke-width="2"/>
<text class="i" y="747" transform="matrix(1 0 0 1.043 0 -32.121)"><tspan x="666.25">3</tspan><tspan x="683.21">2</tspan></text>
<polygon class="g1" points="703.24,747 705.45,735.17 702.1,737.32 702.42,735.58 705.92,733.37 707.46,733.37 704.92,747"/>
<text class="r" y="770.8" transform="matrix(1 0 0 1.043 0 -33.1444)"><tspan x="664.74">C</tspan><tspan x="684.96">-</tspan><tspan x="702.26">-</tspan></text>
<text class="b" y="794.3" transform="matrix(1 0 0 1.043 0 -34.1549)"><tspan x="664.92">C</tspan><tspan x="685.02">C</tspan><tspan x="704.22">G</tspan></text>
<text class="b" y="774.5" transform="matrix(1 0 0 1.043 0 -33.3035)"><tspan x="623.24">a2</tspan></text>
<text class="r" y="818.1" transform="matrix(1 0 0 1.043 0 -35.1783)"><tspan x="664.74">C</tspan><tspan x="690.46">-</tspan><tspan x="707.86">-</tspan></text>
<text class="r" y="842" transform="matrix(1 0 0 1.043 0 -36.206)"><tspan x="664.74">2</tspan><tspan x="681.14">2</tspan><tspan x="697.44">2</tspan></text>
<line x1="682.7" y1="752" x2="682.7" y2="820.3" stroke="#d2392c" stroke-width="2"/>
<rect x="787.3" y="551" width="156" height="331.9" fill="none" stroke="#111" stroke-width="1.35"/>
<text class="r" y="573.6" transform="matrix(1 0 0 1.043 0 -24.6648)"><tspan x="792.62">(6)</tspan></text>
<text class="r" y="574.2" transform="matrix(1 0 0 1.043 0 -24.6906)"><tspan x="839.36">A C A</tspan><tspan x="897.36">-</tspan><tspan x="909.17">T</tspan></text>
<text class="r" y="597.7" transform="matrix(1 0 0 1.043 0 -25.7011)"><tspan x="839.36">A C T T T</tspan></text>
<text class="b" y="597.7" transform="matrix(1 0 0 1.043 0 -25.7011)"><tspan x="806.14">a</tspan></text>
<polygon class="g1" points="821.14,597.7 821.14,586.38 818.01,588.42 818.01,586.28 821.28,584.07 823.75,584.07 823.75,597.7"/>
<text class="r" y="621.6" transform="matrix(1 0 0 1.043 0 -26.7288)"><tspan x="842.06">A C A T T</tspan></text>
<text class="r" y="657.6" transform="matrix(1 0 0 1.043 0 -28.2768)"><tspan x="850.86">-</tspan></text>
<text class="r" y="681.1" transform="matrix(1 0 0 1.043 0 -29.2873)"><tspan x="850.86">-</tspan></text>
<text class="b" y="680" transform="matrix(1 0 0 1.043 0 -29.24)"><tspan x="806.45">b</tspan></text>
<polygon class="g1" points="822.49,680 822.49,668.68 819.35,670.72 819.35,668.58 822.63,666.37 825.1,666.37 825.1,680"/>
<text class="r" y="705.6" transform="matrix(1 0 0 1.043 0 -30.3408)"><tspan x="847.04">G</tspan></text>
<text class="r" y="739.3" transform="matrix(1 0 0 1.043 0 -31.7899)"><tspan x="840.94">C</tspan><tspan x="860.54">G</tspan></text>
<text class="r" y="763.2" transform="matrix(1 0 0 1.043 0 -32.8176)"><tspan x="840.94">C</tspan><tspan x="860.54">G</tspan></text>
<text class="b" y="761" transform="matrix(1 0 0 1.043 0 -32.723)"><tspan x="804.45">b4</tspan></text>
<text class="r" y="786.8" transform="matrix(1 0 0 1.043 0 -33.8324)"><tspan x="840.94">C</tspan><tspan x="860.54">G</tspan></text>
<text class="r" y="816.4" transform="matrix(1 0 0 1.043 0 -35.1052)"><tspan x="842.14">C</tspan></text>
<text class="r" y="840" transform="matrix(1 0 0 1.043 0 -36.12)"><tspan x="842.14">C</tspan></text>
<text class="b" y="837.8" transform="matrix(1 0 0 1.043 0 -36.0254)"><tspan x="806.14">a2</tspan></text>
<text class="r" y="864.1" transform="matrix(1 0 0 1.043 0 -37.1563)"><tspan x="842.14">C</tspan></text>
<path d="M993.8 586.2 L1059 586.2 C1062.58 586.2 1071.8 646.46 1071.8 720.1 C1071.8 793.75 1067.96 854 1059 854 L993.8 854 C984.35 854 980.3 793.75 980.3 720.1 C980.3 646.46 990.02 586.2 993.8 586.2 Z" fill="none" stroke="#111" stroke-width="1.35"/>
<text class="r" y="615.6" transform="matrix(1 0 0 1.043 0 -26.4708)"><tspan x="994.42">(vi)</tspan></text>
<polygon class="g1" points="1038.75,615.6 1038.75,603.63 1035.8,605.83 1035.8,604.18 1038.89,601.97 1040.43,601.97 1040.43,615.6"/>
<text class="r" y="637.6" transform="matrix(1 0 0 1.043 0 -27.4168)"><tspan x="1035.86">-</tspan></text>
<text class="r" y="661.8" transform="matrix(1 0 0 1.043 0 -28.4574)"><tspan x="1035.86">-</tspan></text>
<text class="b" y="663.2" transform="matrix(1 0 0 1.043 0 -28.5176)"><tspan x="994.65">b</tspan></text>
<polygon class="g1" points="1010.69,663.2 1010.69,651.88 1007.55,653.92 1007.55,651.78 1010.83,649.57 1013.3,649.57 1013.3,663.2"/>
<text class="b" y="686.5" transform="matrix(1 0 0 1.043 0 -29.5195)"><tspan x="1032.32">G</tspan></text>
<text class="r" y="710.3" transform="matrix(1 0 0 1.043 0 -30.5429)"><tspan x="1034.46">0</tspan></text>
<line x1="1027.5" y1="625.5" x2="1027.5" y2="693.9" stroke="#d2392c" stroke-width="2"/>
<polygon class="g1" points="1039.34,745.6 1041.55,733.77 1038.2,735.92 1038.52,734.18 1042.02,731.97 1043.56,731.97 1041.02,745.6"/>
<text class="r" y="769.8" transform="matrix(1 0 0 1.043 0 -33.1014)"><tspan x="1034.24">C</tspan></text>
<text class="r" y="793.6" transform="matrix(1 0 0 1.043 0 -34.1248)"><tspan x="1034.24">C</tspan></text>
<text class="b" y="793.6" transform="matrix(1 0 0 1.043 0 -34.1248)"><tspan x="997.44">a2</tspan></text>
<text class="b" y="817.1" transform="matrix(1 0 0 1.043 0 -35.1353)"><tspan x="1033.72">C</tspan></text>
<text class="r" y="841.2" transform="matrix(1 0 0 1.043 0 -36.1716)"><tspan x="1034.84">2</tspan></text>
<line x1="1053" y1="757.9" x2="1053" y2="825.4" stroke="#d2392c" stroke-width="2"/>
<rect x="1103" y="552.6" width="161.7" height="332.2" fill="none" stroke="#111" stroke-width="1.35"/>
<text class="r" y="575.6" transform="matrix(1 0 0 1.043 0 -24.7508)"><tspan x="1110.02">(7)</tspan></text>
<text class="r" y="575.2" transform="matrix(1 0 0 1.043 0 -24.7336)"><tspan x="1151.66">A C A</tspan><tspan x="1209.96">-</tspan><tspan x="1221.27">T</tspan></text>
<text class="r" y="598.8" transform="matrix(1 0 0 1.043 0 -25.7484)"><tspan x="1151.66">A C T T T</tspan></text>
<text class="b" y="598.8" transform="matrix(1 0 0 1.043 0 -25.7484)"><tspan x="1124.54">a</tspan></text>
<polygon class="g1" points="1139.54,598.8 1139.54,587.48 1136.41,589.52 1136.41,587.38 1139.68,585.17 1142.15,585.17 1142.15,598.8"/>
<text class="r" y="622.7" transform="matrix(1 0 0 1.043 0 -26.7761)"><tspan x="1154.56">A C A T T</tspan></text>
<text class="b" y="681.4" transform="matrix(1 0 0 1.043 0 -29.3002)"><tspan x="1115.05">b</tspan></text>
<polygon class="g1" points="1131.09,681.4 1131.09,670.08 1127.95,672.12 1127.95,669.98 1131.23,667.77 1133.7,667.77 1133.7,681.4"/>
<text class="r" y="741" transform="matrix(1 0 0 1.043 0 -31.863)"><tspan x="1146.64">C</tspan><tspan x="1166.54">G</tspan></text>
<text class="r" y="764.7" transform="matrix(1 0 0 1.043 0 -32.8821)"><tspan x="1146.64">C</tspan><tspan x="1166.54">G</tspan></text>
<text class="b" y="762.6" transform="matrix(1 0 0 1.043 0 -32.7918)"><tspan x="1113.65">b4</tspan></text>
<text class="r" y="788.2" transform="matrix(1 0 0 1.043 0 -33.8926)"><tspan x="1146.64">C</tspan><tspan x="1166.54">G</tspan></text>
<text class="r" y="828.1" transform="matrix(1 0 0 1.043 0 -35.6083)"><tspan x="1150.14">C</tspan></text>
<text class="r" y="851.9" transform="matrix(1 0 0 1.043 0 -36.6317)"><tspan x="1150.14">C</tspan></text>
<text class="b" y="839.6" transform="matrix(1 0 0 1.043 0 -36.1028)"><tspan x="1114.74">a2</tspan></text>
<text class="r" y="875.4" transform="matrix(1 0 0 1.043 0 -37.6422)"><tspan x="1150.14">C</tspan></text>
<line x1="215.3" y1="716.8" x2="225.92" y2="716.23" stroke="#000" stroke-width="2"/>
<path d="M237.7 715.6 L225.17 720.98 L224.67 711.59 Z" fill="#000"/>
<line x1="393.3" y1="714.8" x2="411.22" y2="715.89" stroke="#000" stroke-width="2"/>
<path d="M423 716.6 L409.94 720.52 L410.51 711.13 Z" fill="#000"/>
<line x1="576.1" y1="716.8" x2="601" y2="716.8" stroke="#000" stroke-width="2"/>
<path d="M612.8 716.8 L600 721.5 L600 712.1 Z" fill="#000"/>
<line x1="749.6" y1="716.8" x2="774.6" y2="716.8" stroke="#000" stroke-width="2"/>
<path d="M786.4 716.8 L773.6 721.5 L773.6 712.1 Z" fill="#000"/>
<line x1="943.3" y1="716.6" x2="967.41" y2="717.41" stroke="#000" stroke-width="2"/>
<path d="M979.2 717.8 L966.25 722.07 L966.56 712.68 Z" fill="#000"/>
<line x1="1071.8" y1="719.8" x2="1089.81" y2="719.07" stroke="#000" stroke-width="2"/>
<path d="M1101.6 718.6 L1089 723.81 L1088.62 714.42 Z" fill="#000"/>
<rect x="49.5" y="952.1" width="39.4" height="62.6" fill="#b763b1" stroke="#1c161c" stroke-width="1.3"/>
<line x1="49.5" y1="972.97" x2="88.9" y2="972.97" stroke="#1c161c" stroke-width="1.3"/>
<line x1="49.5" y1="993.83" x2="88.9" y2="993.83" stroke="#1c161c" stroke-width="1.3"/>
<text class="u" x="68.6" y="969.57" style="font-size:20px" transform="matrix(1 0 0 1.043 0 -41.6917)">C</text>
<text class="u" x="68.6" y="990.44" style="font-size:20px" transform="matrix(1 0 0 1.043 0 -42.5889)">C</text>
<text class="u" x="68.6" y="1011.31" style="font-size:20px" transform="matrix(1 0 0 1.043 0 -43.4862)">C</text>
<rect x="44.3" y="958" width="9.3" height="49.8" rx="4.65" ry="4.65" fill="#0a0a0a"/>
<rect x="84.6" y="958" width="8.7" height="49.8" rx="4.35" ry="4.35" fill="#0a0a0a"/>
<rect x="132" y="952.1" width="40" height="62.6" fill="#b763b1" stroke="#1c161c" stroke-width="1.3"/>
<line x1="132" y1="972.97" x2="172" y2="972.97" stroke="#1c161c" stroke-width="1.3"/>
<line x1="132" y1="993.83" x2="172" y2="993.83" stroke="#1c161c" stroke-width="1.3"/>
<text class="u" x="151.4" y="969.57" style="font-size:20px" transform="matrix(1 0 0 1.043 0 -41.6917)">A</text>
<text class="u" x="151.4" y="990.44" style="font-size:20px" transform="matrix(1 0 0 1.043 0 -42.5889)">A</text>
<text class="u" x="151.4" y="1011.31" style="font-size:20px" transform="matrix(1 0 0 1.043 0 -43.4862)">A</text>
<rect x="126.8" y="958" width="8.6" height="52.3" rx="4.3" ry="4.3" fill="#0a0a0a"/>
<rect x="167.6" y="958" width="9" height="49" rx="4.5" ry="4.5" fill="#0a0a0a"/>
<rect x="204.4" y="950.3" width="39.7" height="62.6" fill="#b763b1" stroke="#1c161c" stroke-width="1.3"/>
<line x1="204.4" y1="971.17" x2="244.1" y2="971.17" stroke="#1c161c" stroke-width="1.3"/>
<line x1="204.4" y1="992.03" x2="244.1" y2="992.03" stroke="#1c161c" stroke-width="1.3"/>
<text class="u" x="223.65" y="967.77" style="font-size:20px" transform="matrix(1 0 0 1.043 0 -41.6143)">C</text>
<text class="u" x="223.65" y="988.64" style="font-size:20px" transform="matrix(1 0 0 1.043 0 -42.5115)">C</text>
<text class="u" x="223.65" y="1009.51" style="font-size:20px" transform="matrix(1 0 0 1.043 0 -43.4088)">C</text>
<rect x="199.8" y="956.7" width="8.5" height="52.1" rx="4.25" ry="4.25" fill="#0a0a0a"/>
<rect x="240.3" y="956.7" width="8.5" height="49" rx="4.25" ry="4.25" fill="#0a0a0a"/>
<rect x="282.3" y="950.3" width="40" height="62.6" fill="#b763b1" stroke="#1c161c" stroke-width="1.3"/>
<line x1="282.3" y1="971.17" x2="322.3" y2="971.17" stroke="#1c161c" stroke-width="1.3"/>
<line x1="282.3" y1="992.03" x2="322.3" y2="992.03" stroke="#1c161c" stroke-width="1.3"/>
<text class="u" x="301.7" y="967.77" style="font-size:20px" transform="matrix(1 0 0 1.043 0 -41.6143)">A</text>
<text class="u" x="301.7" y="988.64" style="font-size:20px" transform="matrix(1 0 0 1.043 0 -42.5115)">T</text>
<text class="u" x="301.7" y="1009.51" style="font-size:20px" transform="matrix(1 0 0 1.043 0 -43.4088)">A</text>
<rect x="277.1" y="956.7" width="9.1" height="52.9" rx="4.55" ry="4.55" fill="#0a0a0a"/>
<rect x="318" y="956.2" width="8.6" height="49.5" rx="4.3" ry="4.3" fill="#0a0a0a"/>
<rect x="360.1" y="968.8" width="39.7" height="42" fill="#96d3ea" stroke="#1c161c" stroke-width="1.3"/>
<line x1="360.1" y1="989.8" x2="399.8" y2="989.8" stroke="#1c161c" stroke-width="1.3"/>
<text class="u" x="379.35" y="986.34" style="font-size:20px" transform="matrix(1 0 0 1.043 0 -42.4126)">T</text>
<text class="u" x="379.35" y="1007.34" style="font-size:20px" transform="matrix(1 0 0 1.043 0 -43.3156)">T</text>
<rect x="354.9" y="970.9" width="8.3" height="35.3" rx="4.15" ry="4.15" fill="#0a0a0a"/>
<rect x="395.9" y="970.9" width="8.5" height="32.2" rx="4.25" ry="4.25" fill="#0a0a0a"/>
<rect x="431" y="948.5" width="39.7" height="62.9" fill="#b763b1" stroke="#1c161c" stroke-width="1.3"/>
<line x1="431" y1="969.47" x2="470.7" y2="969.47" stroke="#1c161c" stroke-width="1.3"/>
<line x1="431" y1="990.43" x2="470.7" y2="990.43" stroke="#1c161c" stroke-width="1.3"/>
<text class="u" x="450.25" y="966.02" style="font-size:20px" transform="matrix(1 0 0 1.043 0 -41.539)">T</text>
<text class="u" x="450.25" y="986.99" style="font-size:20px" transform="matrix(1 0 0 1.043 0 -42.4406)">T</text>
<text class="u" x="450.25" y="1007.96" style="font-size:20px" transform="matrix(1 0 0 1.043 0 -43.3421)">T</text>
<rect x="425.6" y="954.1" width="8.5" height="52.4" rx="4.25" ry="4.25" fill="#0a0a0a"/>
<rect x="466.3" y="954.9" width="9" height="49.5" rx="4.5" ry="4.5" fill="#0a0a0a"/>
<rect x="564.2" y="948.2" width="39.4" height="63.1" fill="#efa585" stroke="#1c161c" stroke-width="1.3"/>
<line x1="564.2" y1="969.23" x2="603.6" y2="969.23" stroke="#1c161c" stroke-width="1.3"/>
<line x1="564.2" y1="990.27" x2="603.6" y2="990.27" stroke="#1c161c" stroke-width="1.3"/>
<text class="u" x="583.3" y="965.76" style="font-size:20px" transform="matrix(1 0 0 1.043 0 -41.5275)">C</text>
<text class="u" x="583.3" y="986.79" style="font-size:20px" transform="matrix(1 0 0 1.043 0 -42.432)">C</text>
<text class="u" x="583.3" y="1007.82" style="font-size:20px" transform="matrix(1 0 0 1.043 0 -43.3364)">C</text>
<rect x="558.5" y="954.9" width="8.8" height="58.5" rx="4.4" ry="4.4" fill="#0a0a0a"/>
<rect x="599.5" y="954.9" width="8.5" height="54.6" rx="4.25" ry="4.25" fill="#0a0a0a"/>
<rect x="634" y="948.2" width="39.5" height="63.1" fill="#efa585" stroke="#1c161c" stroke-width="1.3"/>
<line x1="634" y1="969.23" x2="673.5" y2="969.23" stroke="#1c161c" stroke-width="1.3"/>
<line x1="634" y1="990.27" x2="673.5" y2="990.27" stroke="#1c161c" stroke-width="1.3"/>
<text class="u" x="653.15" y="965.76" style="font-size:20px" transform="matrix(1 0 0 1.043 0 -41.5275)">A</text>
<text class="u" x="653.15" y="986.79" style="font-size:20px" transform="matrix(1 0 0 1.043 0 -42.432)">A</text>
<text class="u" x="653.15" y="1007.82" style="font-size:20px" transform="matrix(1 0 0 1.043 0 -43.3364)">T</text>
<rect x="628.4" y="954.1" width="9" height="58" rx="4.5" ry="4.5" fill="#0a0a0a"/>
<rect x="668.8" y="954.9" width="8.5" height="54.6" rx="4.25" ry="4.25" fill="#0a0a0a"/>
<rect x="713.4" y="948.2" width="39.5" height="63.1" fill="#efa585" stroke="#1c161c" stroke-width="1.3"/>
<line x1="713.4" y1="969.23" x2="752.9" y2="969.23" stroke="#1c161c" stroke-width="1.3"/>
<line x1="713.4" y1="990.27" x2="752.9" y2="990.27" stroke="#1c161c" stroke-width="1.3"/>
<text class="u" x="732.55" y="965.76" style="font-size:20px" transform="matrix(1 0 0 1.043 0 -41.5275)">C</text>
<text class="u" x="732.55" y="986.79" style="font-size:20px" transform="matrix(1 0 0 1.043 0 -42.432)">C</text>
<text class="u" x="732.55" y="1007.82" style="font-size:20px" transform="matrix(1 0 0 1.043 0 -43.3364)">C</text>
<rect x="707.8" y="954.1" width="8.2" height="50.3" rx="4.1" ry="4.1" fill="#0a0a0a"/>
<rect x="748.2" y="954.1" width="8.5" height="49" rx="4.25" ry="4.25" fill="#0a0a0a"/>
<rect x="782.5" y="948.2" width="39.7" height="63.1" fill="#efa585" stroke="#1c161c" stroke-width="1.3"/>
<line x1="782.5" y1="969.23" x2="822.2" y2="969.23" stroke="#1c161c" stroke-width="1.3"/>
<line x1="782.5" y1="990.27" x2="822.2" y2="990.27" stroke="#1c161c" stroke-width="1.3"/>
<text class="u" x="801.75" y="965.76" style="font-size:20px" transform="matrix(1 0 0 1.043 0 -41.5275)">T</text>
<text class="u" x="801.75" y="986.79" style="font-size:20px" transform="matrix(1 0 0 1.043 0 -42.432)">T</text>
<text class="u" x="801.75" y="1007.82" style="font-size:20px" transform="matrix(1 0 0 1.043 0 -43.3364)">T</text>
<rect x="777.3" y="954.1" width="8.3" height="50.3" rx="4.15" ry="4.15" fill="#0a0a0a"/>
<rect x="817.8" y="950.3" width="8.5" height="52.8" rx="4.25" ry="4.25" fill="#0a0a0a"/>
<rect x="867.3" y="949.5" width="39.4" height="63.1" fill="#efa585" stroke="#1c161c" stroke-width="1.3"/>
<line x1="867.3" y1="970.53" x2="906.7" y2="970.53" stroke="#1c161c" stroke-width="1.3"/>
<line x1="867.3" y1="991.57" x2="906.7" y2="991.57" stroke="#1c161c" stroke-width="1.3"/>
<text class="u" x="886.4" y="967.06" style="font-size:20px" transform="matrix(1 0 0 1.043 0 -41.5834)">C</text>
<text class="u" x="886.4" y="988.09" style="font-size:20px" transform="matrix(1 0 0 1.043 0 -42.4879)">C</text>
<text class="u" x="886.4" y="1009.12" style="font-size:20px" transform="matrix(1 0 0 1.043 0 -43.3923)">C</text>
<rect x="861.6" y="954.9" width="8.5" height="52.8" rx="4.25" ry="4.25" fill="#0a0a0a"/>
<rect x="901.8" y="952.8" width="8.7" height="51.6" rx="4.35" ry="4.35" fill="#0a0a0a"/>
<rect x="942.5" y="947.7" width="40" height="63.1" fill="#efa585" stroke="#1c161c" stroke-width="1.3"/>
<line x1="942.5" y1="968.73" x2="982.5" y2="968.73" stroke="#1c161c" stroke-width="1.3"/>
<line x1="942.5" y1="989.77" x2="982.5" y2="989.77" stroke="#1c161c" stroke-width="1.3"/>
<text class="u" x="961.9" y="965.26" style="font-size:20px" transform="matrix(1 0 0 1.043 0 -41.506)">G</text>
<text class="u" x="961.9" y="986.29" style="font-size:20px" transform="matrix(1 0 0 1.043 0 -42.4105)">G</text>
<text class="u" x="961.9" y="1007.32" style="font-size:20px" transform="matrix(1 0 0 1.043 0 -43.3149)">G</text>
<rect x="937.4" y="953.4" width="8.5" height="52.8" rx="4.25" ry="4.25" fill="#0a0a0a"/>
<rect x="978.1" y="953.4" width="8.8" height="49.7" rx="4.4" ry="4.4" fill="#0a0a0a"/>
<rect x="1053.4" y="946.4" width="39.9" height="63.6" fill="#b763b1" stroke="#1c161c" stroke-width="1.3"/>
<line x1="1053.4" y1="967.6" x2="1093.3" y2="967.6" stroke="#1c161c" stroke-width="1.3"/>
<line x1="1053.4" y1="988.8" x2="1093.3" y2="988.8" stroke="#1c161c" stroke-width="1.3"/>
<text class="u" x="1072.75" y="964.04" style="font-size:20px" transform="matrix(1 0 0 1.043 0 -41.4537)">G</text>
<text class="u" x="1072.75" y="985.24" style="font-size:20px" transform="matrix(1 0 0 1.043 0 -42.3653)">G</text>
<text class="u" x="1072.75" y="1006.44" style="font-size:20px" transform="matrix(1 0 0 1.043 0 -43.2769)">G</text>
<rect x="1048.2" y="952.3" width="8.5" height="53.4" rx="4.25" ry="4.25" fill="#0a0a0a"/>
<rect x="1089.5" y="954.9" width="8.5" height="48.2" rx="4.25" ry="4.25" fill="#0a0a0a"/>
<rect x="1128.9" y="946.4" width="39.7" height="63.6" fill="#b763b1" stroke="#1c161c" stroke-width="1.3"/>
<line x1="1128.9" y1="967.6" x2="1168.6" y2="967.6" stroke="#1c161c" stroke-width="1.3"/>
<line x1="1128.9" y1="988.8" x2="1168.6" y2="988.8" stroke="#1c161c" stroke-width="1.3"/>
<text class="u" x="1148.15" y="964.04" style="font-size:20px" transform="matrix(1 0 0 1.043 0 -41.4537)">C</text>
<text class="u" x="1148.15" y="985.24" style="font-size:20px" transform="matrix(1 0 0 1.043 0 -42.3653)">C</text>
<text class="u" x="1148.15" y="1006.44" style="font-size:20px" transform="matrix(1 0 0 1.043 0 -43.2769)">C</text>
<rect x="1123.8" y="952.3" width="8.2" height="50.8" rx="4.1" ry="4.1" fill="#0a0a0a"/>
<rect x="1164.2" y="952.3" width="8.5" height="52.1" rx="4.25" ry="4.25" fill="#0a0a0a"/>
<line x1="90" y1="962.4" x2="132" y2="962.6" stroke="#4059b0" stroke-width="2.8" stroke-linecap="round"/>
<line x1="90" y1="983.3" x2="132" y2="984.3" stroke="#7dc744" stroke-width="2.8" stroke-linecap="round"/>
<line x1="90" y1="1004.4" x2="132" y2="1004.7" stroke="#e53226" stroke-width="2.8" stroke-linecap="round"/>
<line x1="173" y1="962.4" x2="204" y2="961.4" stroke="#4059b0" stroke-width="2.8" stroke-linecap="round"/>
<line x1="173" y1="988.4" x2="204" y2="982.5" stroke="#7dc744" stroke-width="2.8" stroke-linecap="round"/>
<line x1="173" y1="1004.4" x2="204" y2="1002.6" stroke="#e53226" stroke-width="2.8" stroke-linecap="round"/>
<line x1="245.5" y1="960.6" x2="282" y2="960.6" stroke="#4059b0" stroke-width="2.8" stroke-linecap="round"/>
<line x1="245.5" y1="981.5" x2="282" y2="982" stroke="#7dc744" stroke-width="2.8" stroke-linecap="round"/>
<line x1="245.5" y1="1002.3" x2="282" y2="1004.9" stroke="#e53226" stroke-width="2.8" stroke-linecap="round"/>
<line x1="323" y1="960.6" x2="431" y2="958.8" stroke="#4059b0" stroke-width="2.8" stroke-linecap="round"/>
<line x1="323" y1="982" x2="360" y2="979.1" stroke="#7dc744" stroke-width="2.8" stroke-linecap="round"/>
<line x1="323" y1="1002.6" x2="360" y2="1000" stroke="#e53226" stroke-width="2.8" stroke-linecap="round"/>
<line x1="400.5" y1="979.1" x2="431" y2="979.4" stroke="#7dc744" stroke-width="2.8" stroke-linecap="round"/>
<line x1="400.5" y1="999.2" x2="431" y2="1001.3" stroke="#e53226" stroke-width="2.8" stroke-linecap="round"/>
<line x1="472" y1="958.8" x2="564" y2="958.5" stroke="#4059b0" stroke-width="2.8" stroke-linecap="round"/>
<line x1="472" y1="978.6" x2="564" y2="979.9" stroke="#7dc744" stroke-width="2.8" stroke-linecap="round"/>
<line x1="605" y1="958.8" x2="634" y2="958.8" stroke="#4059b0" stroke-width="2.8" stroke-linecap="round"/>
<line x1="605" y1="979.9" x2="634" y2="979.1" stroke="#7dc744" stroke-width="2.8" stroke-linecap="round"/>
<line x1="605" y1="1001" x2="634" y2="998.7" stroke="#e53226" stroke-width="2.8" stroke-linecap="round"/>
<line x1="674" y1="958.8" x2="713" y2="959.3" stroke="#4059b0" stroke-width="2.8" stroke-linecap="round"/>
<line x1="674" y1="981" x2="713" y2="979.9" stroke="#7dc744" stroke-width="2.8" stroke-linecap="round"/>
<line x1="674" y1="1000.5" x2="713" y2="1001" stroke="#e53226" stroke-width="2.8" stroke-linecap="round"/>
<line x1="753.5" y1="958.8" x2="782.5" y2="958.8" stroke="#4059b0" stroke-width="2.8" stroke-linecap="round"/>
<line x1="753.5" y1="979.9" x2="782.5" y2="979.9" stroke="#7dc744" stroke-width="2.8" stroke-linecap="round"/>
<line x1="753.5" y1="1000.5" x2="782.5" y2="1000.5" stroke="#e53226" stroke-width="2.8" stroke-linecap="round"/>
<line x1="823" y1="958.8" x2="867" y2="960" stroke="#4059b0" stroke-width="2.8" stroke-linecap="round"/>
<line x1="823" y1="979.4" x2="867" y2="979.4" stroke="#7dc744" stroke-width="2.8" stroke-linecap="round"/>
<line x1="823" y1="1000.5" x2="867" y2="1004.4" stroke="#e53226" stroke-width="2.8" stroke-linecap="round"/>
<line x1="907" y1="960" x2="942.5" y2="957.2" stroke="#4059b0" stroke-width="2.8" stroke-linecap="round"/>
<line x1="907" y1="980.4" x2="942.5" y2="979.4" stroke="#7dc744" stroke-width="2.8" stroke-linecap="round"/>
<line x1="907" y1="1001.8" x2="942.5" y2="999.8" stroke="#e53226" stroke-width="2.8" stroke-linecap="round"/>
<line x1="983" y1="958" x2="1053" y2="957.2" stroke="#4059b0" stroke-width="2.8" stroke-linecap="round"/>
<line x1="983" y1="978.9" x2="1053" y2="978.1" stroke="#7dc744" stroke-width="2.8" stroke-linecap="round"/>
<line x1="1094.5" y1="956.7" x2="1129" y2="956.7" stroke="#4059b0" stroke-width="2.8" stroke-linecap="round"/>
<line x1="1094.5" y1="977.3" x2="1129" y2="976.6" stroke="#7dc744" stroke-width="2.8" stroke-linecap="round"/>
<line x1="1094.5" y1="999.3" x2="1129" y2="996.7" stroke="#e53226" stroke-width="2.8" stroke-linecap="round"/>
<path d="M472 1000.5 L504.9 1000.5 L504.9 1036.6 L524 1036.6 A7.2 5.6 0 0 1 538.4 1036.6 L991 1036.6 L991 999.3 L983 999.3" fill="none" stroke="#e53226" stroke-width="2.7" stroke-linejoin="miter" stroke-linecap="round"/>
<path d="M564 1000 L531.2 1000 L531.2 1070.6 L1015.2 1070.6 L1015.2 999.3 L1053 999.3" fill="none" stroke="#e53226" stroke-width="2.7" stroke-linejoin="miter" stroke-linecap="round"/>
<text class="r" y="938.7" style="font-size:24px;" transform="matrix(1 0 0 1.043 0 -40.3641)"><tspan x="1.11">(C)</tspan></text>
<text class="r" y="942" transform="matrix(1 0 0 1.043 0 -40.506)"><tspan x="58.99">a</tspan></text>
<polygon class="g1" points="74.34,942 74.34,930.03 71.39,932.23 71.39,930.58 74.48,928.37 76.02,928.37 76.02,942"/>
<text class="r" y="938.7" transform="matrix(1 0 0 1.043 0 -40.3641)"><tspan x="573.28">b</tspan></text>
<polygon class="g1" points="588.62,938.7 588.62,926.73 585.67,928.93 585.67,927.28 588.76,925.07 590.3,925.07 590.3,938.7"/>
<text class="r" y="938.7" transform="matrix(1 0 0 1.043 0 -40.3641)"><tspan x="642.58">b2</tspan></text>
<text class="r" y="938.7" transform="matrix(1 0 0 1.043 0 -40.3641)"><tspan x="721.98">b3</tspan></text>
<text class="r" y="938.7" transform="matrix(1 0 0 1.043 0 -40.3641)"><tspan x="791.58">b4</tspan></text>
<text class="r" y="937.4" transform="matrix(1 0 0 1.043 0 -40.3082)"><tspan x="1138.39">a2</tspan></text>
</svg>
</body></html>
